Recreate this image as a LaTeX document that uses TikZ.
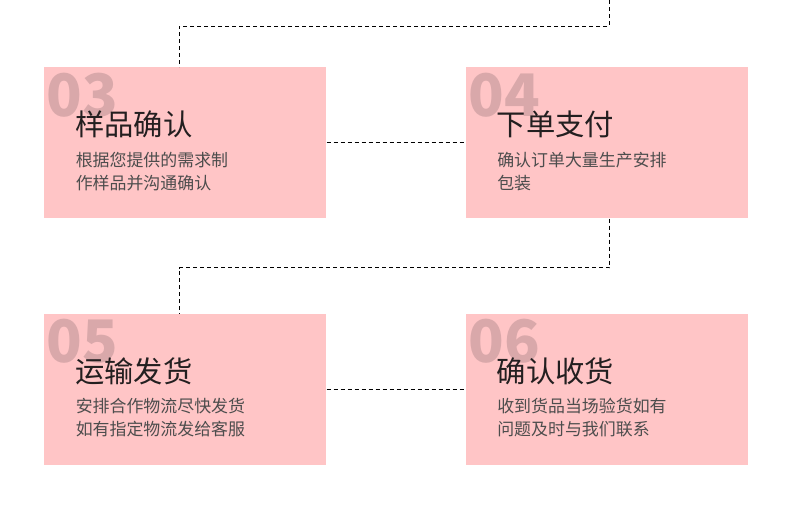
\documentclass[tikz,border=0pt]{standalone}
\usepackage{fontspec}
\setmainfont{Noto Sans CJK SC}
\usetikzlibrary{positioning,calc}

\definecolor{boxpink}{RGB}{255,197,198}
\definecolor{numpink}{RGB}{217,168,170}
\definecolor{titlegray}{RGB}{35,31,32}
\definecolor{descgray}{RGB}{77,77,77}

\begin{document}
\begin{tikzpicture}[
    x=0.75pt, y=-0.75pt,
    box/.style={fill=boxpink, inner sep=0pt,
                minimum width=211.5pt, minimum height=113.25pt},
    num/.style={font=\fontsize{44}{44}\selectfont\bfseries, text=numpink,
                inner sep=0pt, anchor=base west},
    title/.style={font=\fontsize{22}{24}\selectfont, text=titlegray,
                  inner sep=0pt, anchor=base west},
    desc/.style={font=\fontsize{12.7}{17.25}\selectfont, text=descgray,
                 inner sep=0pt, anchor=base west, align=left},
    link/.style={draw=black, line width=0.75pt, dash pattern=on 3pt off 2.25pt}
  ]
  \useasboundingbox (0,0) rectangle (790,525);

  % the four steps
  \node[box, anchor=north west] (s3) at (44,67) {};
  \node[box, right=104.25pt of s3] (s4) {};
  \node[box, below=71.25pt of s3]  (s5) {};
  \node[box, right=104.25pt of s5] (s6) {};

  \foreach \s/\t/\d in {
      3/样品确认/{根据您提供的需求制\\作样品并沟通确认},
      4/下单支付/{确认订单大量生产安排\\包装},
      5/运输发货/{安排合作物流尽快发货\\如有指定物流发给客服},
      6/确认收货/{收到货品当场验货如有\\问题及时与我们联系}} {
    \node[num]   (n\s) at ($(s\s.north west)+(2.5,49)$) {0\s};
    \node[title] (t\s) at ($(s\s.north west)+(31,68.5)$)  {\t};
    \node[desc]  (d\s) at ($(s\s.north west)+(31.5,122)$) {\d};
  }

  % connectors
  \coordinate (top) at (609,0);
  \coordinate (a3) at ($(s3.north west)+(135,0)$);
  \coordinate (a4) at ($(s4.south west)+(144,0)$);
  \coordinate (a5) at ($(s5.north west)+(135,0)$);

  \draw[link] (top) -- ++(0,26) -| (a3);
  \draw[link] (s3) -- (s4);
  \draw[link] (a4) -- ++(0,49) -| (a5);
  \draw[link] (s5) -- (s6);
\end{tikzpicture}
\end{document}
